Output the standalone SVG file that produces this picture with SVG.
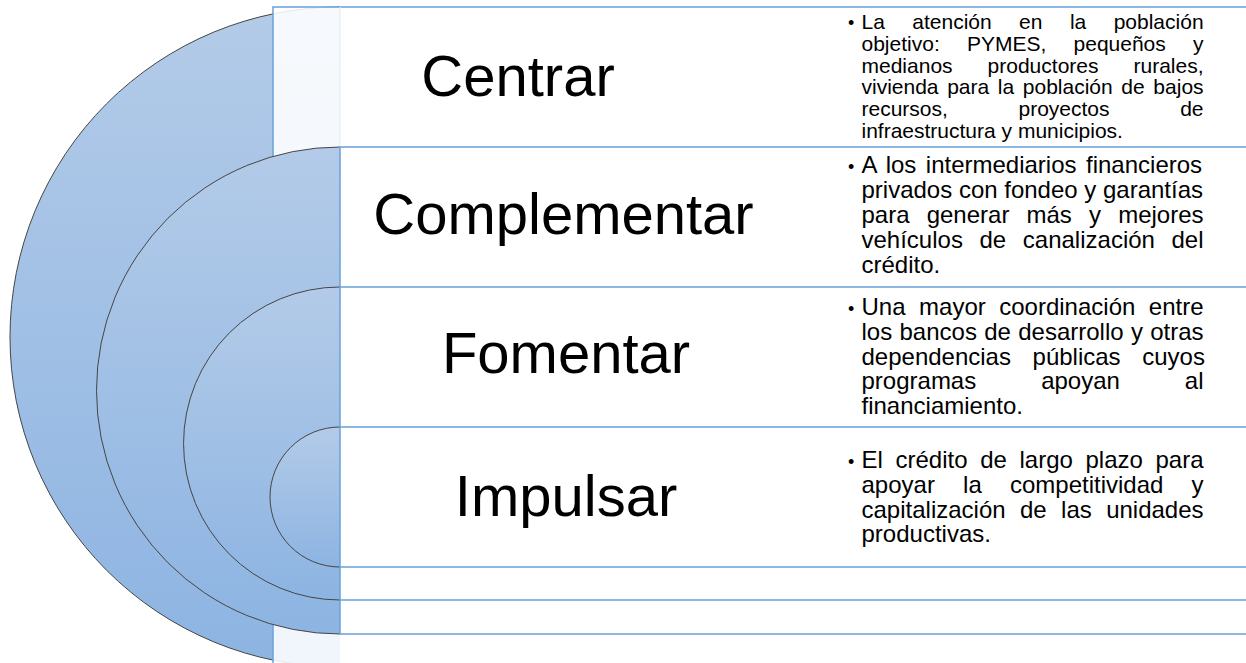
<svg xmlns="http://www.w3.org/2000/svg" width="1246" height="663" viewBox="0 0 1246 663">
<defs>
<linearGradient id="blueGrad" x1="0" y1="0" x2="0" y2="1">
<stop offset="0" stop-color="#b3cbe8"/>
<stop offset="1" stop-color="#8db4e2"/>
</linearGradient>
<style>
.arc{fill:url(#blueGrad);stroke:#454545;stroke-width:1}
.row{stroke:#6aa1db;stroke-width:1.5}
.title{font-family:"Liberation Sans",Arial,sans-serif;font-size:58px;fill:#000;text-anchor:middle}
.body{font-family:"Liberation Sans",Arial,sans-serif;font-size:24px;fill:#000}
.small{font-size:21px}
.bullet{font-family:"Liberation Sans",Arial,sans-serif;font-size:18px;fill:#000}
</style>
</defs>
<rect width="1246" height="663" fill="#fff"/>

<g id="node-centrar">
<path class="arc" d="M340,7 A330,330 0 0 0 340,667"/>
<rect class="row" x="273" y="7" width="1020" height="700" fill="#fff" fill-opacity="0.88"/>
<line x1="340" y1="7" x2="340" y2="147" stroke="#e6e8ec" stroke-width="1"/>
<text class="title" x="518" y="96">Centrar</text>
<text class="bullet" x="848" y="29.3">•</text>
<g class="body small">
<text x="861.5" y="29.3" word-spacing="21.59">La atención en la población</text>
<text x="861.5" y="51" word-spacing="21.39">objetivo: PYMES, pequeños y</text>
<text x="861.5" y="72.7" word-spacing="29.2">medianos productores rurales,</text>
<text x="861.5" y="94.3" word-spacing="2.8">vivienda para la población de bajos</text>
<text x="861.5" y="116" word-spacing="64.79">recursos, proyectos de</text>
<text x="861.5" y="137.7">infraestructura y municipios.</text>
</g>
</g>

<g id="node-complementar">
<path class="arc" d="M340,147 A243.5,243.5 0 0 0 340,634"/>
<rect class="row" x="340" y="147" width="950" height="487" fill="#fff"/>
<text class="title" x="563.5" y="234">Complementar</text>
<text class="bullet" x="848" y="173.3">•</text>
<g class="body">
<text x="861.5" y="173.3" word-spacing="2.81">A los intermediarios financieros</text>
<text x="861.5" y="198.1">privados con fondeo y garantías</text>
<text x="861.5" y="223" word-spacing="10.47">para generar más y mejores</text>
<text x="861.5" y="247.8" word-spacing="9.95">vehículos de canalización del</text>
<text x="861.5" y="272.7">crédito.</text>
</g>
</g>

<g id="node-fomentar">
<path class="arc" d="M340,287 A156.5,156.5 0 0 0 340,600"/>
<rect class="row" x="340" y="287" width="950" height="313" fill="#fff"/>
<text class="title" x="566" y="373">Fomentar</text>
<text class="bullet" x="848" y="315">•</text>
<g class="body">
<text x="861.5" y="315" word-spacing="6.85">Una mayor coordinación entre</text>
<text x="861.5" y="339.8" word-spacing="0.64">los bancos de desarrollo y otras</text>
<text x="861.5" y="364.6" word-spacing="14.93">dependencias públicas cuyos</text>
<text x="861.5" y="389.4" word-spacing="58.28">programas apoyan al</text>
<text x="861.5" y="414.2">financiamiento.</text>
</g>
</g>

<g id="node-impulsar">
<path class="arc" d="M340,427 A70,70 0 0 0 340,567"/>
<rect class="row" x="340" y="427" width="950" height="140" fill="#fff"/>
<text class="title" x="566" y="516">Impulsar</text>
<text class="bullet" x="848" y="468.3">•</text>
<g class="body">
<text x="861.5" y="468.3" word-spacing="5.97">El crédito de largo plazo para</text>
<text x="861.5" y="492.9" word-spacing="21.52">apoyar la competitividad y</text>
<text x="861.5" y="517.5" word-spacing="7.73">capitalización de las unidades</text>
<text x="861.5" y="542.1">productivas.</text>
</g>
</g>

<g id="connectors"></g>
</svg>
